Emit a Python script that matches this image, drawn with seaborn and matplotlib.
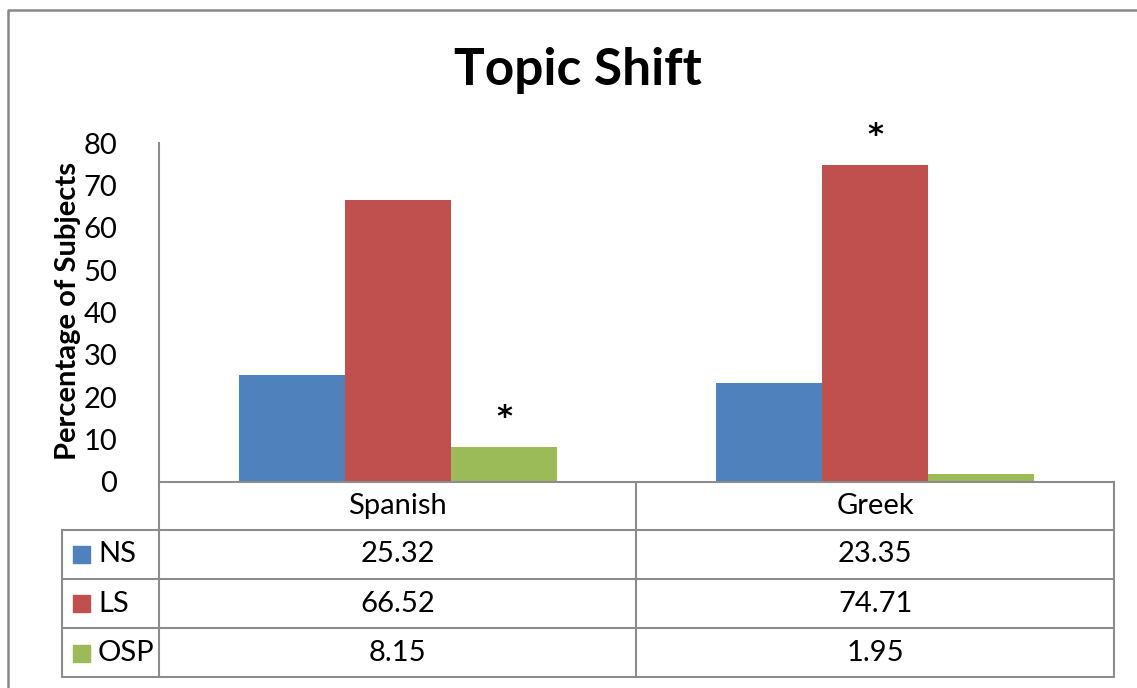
import numpy as np
import pandas as pd
import matplotlib
matplotlib.use("Agg")
import matplotlib.pyplot as plt
import matplotlib.transforms as mtrans
from matplotlib.lines import Line2D
from matplotlib.patches import Rectangle
import seaborn as sns

# data
languages = ["Spanish", "Greek"]
groups = ["NS", "LS", "OSP"]
ns_vals = [25.32, 23.35]
ls_vals = [66.52, 74.71]
osp_vals = [8.15, 1.95]
# which bars carry a significance star: (language, group)
starred = [("Spanish", "OSP"), ("Greek", "LS")]

colors = ["#4F81BD", "#C0504D", "#9BBB59"]
grid_col = "#8C8C8C"

sns.set_theme(style="white")
plt.rcParams["font.family"] = ["Lato", "DejaVu Sans"]
plt.rcParams["text.color"] = "black"
plt.rcParams["axes.labelcolor"] = "black"
plt.rcParams["ytick.color"] = "black"

df = pd.DataFrame({
    "lang": languages * 3,
    "group": [g for g in groups for _ in languages],
    "val": ns_vals + ls_vals + osp_vals,
})

W, H = 1137, 688
fig = plt.figure(figsize=(W / 100, H / 100), dpi=100)

def fx(x):
    return x / W

def fy(y):
    return 1 - y / H

# axes box in pixel terms of the reference
ax = fig.add_axes([fx(159), fy(482), fx(1114) - fx(159), fy(143) - fy(482)])
sns.barplot(data=df, x="lang", y="val", hue="group", hue_order=groups,
            palette=colors, width=0.667, linewidth=0, saturation=1,
            legend=False, ax=ax)
ax.set_xlim(-0.5, 1.5)
ax.set_ylim(0, 80)
ax.set_yticks(range(0, 81, 10))
ax.tick_params(axis="y", labelsize=21, pad=30, length=0, labelcolor="black")
ax.set_xticks([])
ax.set_xlabel("")
ax.set_ylabel("Percentage of Subjects", fontsize=21, fontweight="bold", color="black")
ax.yaxis.set_label_coords(fx(68), fy(311), transform=fig.transFigure)
ax.yaxis.label.set_va("center")
for s in ["top", "right", "bottom"]:
    ax.spines[s].set_visible(False)
ax.spines["left"].set_color(grid_col)
ax.spines["left"].set_linewidth(1.5)

# significance stars above bars
vals = {"NS": ns_vals, "LS": ls_vals, "OSP": osp_vals}
nh = len(groups)
bw = 0.667 / nh
for lang, g in starred:
    i = languages.index(lang)
    j = groups.index(g)
    xc = i - 0.667 / 2 + bw * (j + 0.5)
    ax.annotate("*", (xc, vals[g][i]), xytext=(0, 24), textcoords="offset points",
                ha="center", va="center_baseline", fontsize=22, fontweight="bold",
                family="DejaVu Sans")

fig.suptitle("Topic Shift", x=fx(578), y=fy(70), va="center",
             fontsize=37, fontweight="bold", color="black")

# data table under the chart
def hline(y, x0, x1):
    fig.add_artist(Line2D([fx(x0), fx(x1)], [fy(y), fy(y)],
                          color=grid_col, lw=1.5, transform=fig.transFigure))

def vline(x, y0, y1):
    fig.add_artist(Line2D([fx(x), fx(x)], [fy(y0), fy(y1)],
                          color=grid_col, lw=1.5, transform=fig.transFigure))

hline(482, 159, 1114)
for y in [530, 579, 628, 677]:
    hline(y, 62, 1114)
vline(159, 482, 677)
vline(62, 530, 677)
vline(636, 482, 677)
vline(1114, 482, 677)

bt = mtrans.blended_transform_factory(ax.transData, fig.transFigure)
for i, lang in enumerate(languages):
    fig.text(i, fy(506), lang, transform=bt, ha="center", va="center", fontsize=21)

row_y = [554.5, 603.5, 653]
for r, g in enumerate(groups):
    fig.add_artist(Rectangle((fx(73), fy(row_y[r] + 8.5)), fx(17), 17 / H,
                             color=colors[r], transform=fig.transFigure))
    fig.text(fx(98), fy(row_y[r]), g, ha="left", va="center", fontsize=21)
    for i in range(len(languages)):
        fig.text(i, fy(row_y[r]), f"{vals[g][i]:.2f}", transform=bt,
                 ha="center", va="center", fontsize=21)

# outer chart-area frame
fig.add_artist(Line2D([fx(8), fx(8), 1], [0, fy(10), fy(10)],
                      color="#888888", lw=1.8, transform=fig.transFigure))

fig.savefig("out.png", dpi=100)
